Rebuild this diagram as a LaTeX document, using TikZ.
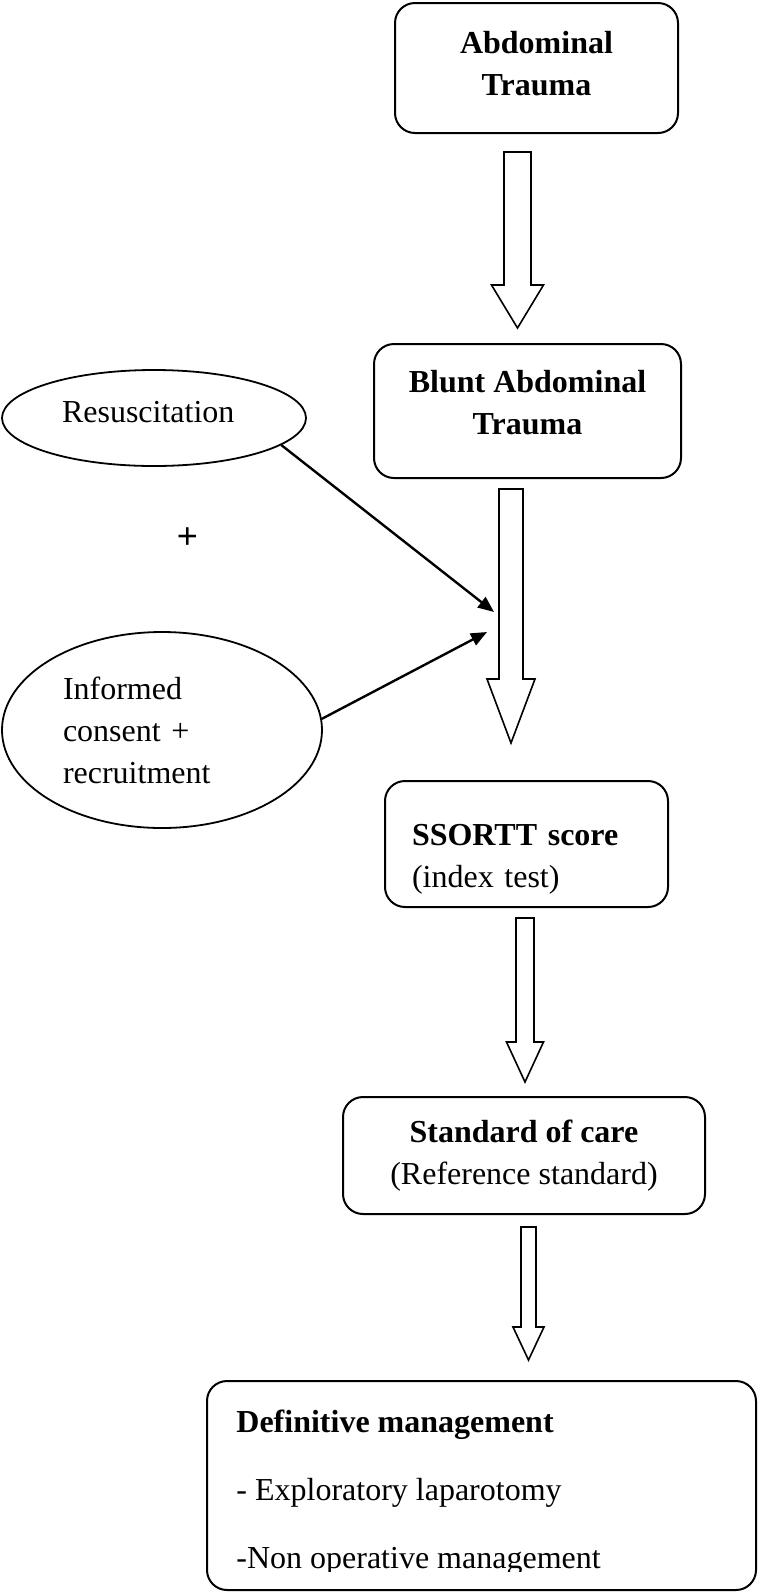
\documentclass[tikz,border=0pt]{standalone}
\usepackage{fontspec}
\setmainfont{Liberation Serif}
\newfontfamily\plusfont{Liberation Sans}
\usetikzlibrary{shapes.geometric,arrows.meta}

\newcommand{\hollowarrow}[6]{%
  \draw[hollow] (#1-#5,#2) -- (#1+#5,#2) -- (#1+#5,#3) -- (#1+#6,#3) -- (#1,#4) -- (#1-#6,#3) -- (#1-#5,#3) -- cycle;}

\begin{document}
\begin{tikzpicture}[x=0.5pt, y=-0.5pt,
  every node/.style={font=\fontsize{16}{21}\selectfont},
  box/.style={draw, line width=1pt, rounded corners=10pt, align=center},
  oval/.style={draw, ellipse, line width=0.9pt, align=left, inner sep=0pt},
  hollow/.style={draw, line width=0.8pt, fill=white},
  link/.style={line width=1.2pt, -{Triangle[length=8pt,width=6.5pt]}}]
\useasboundingbox (0,0) rectangle (759,1592);

\node[box, minimum width=141.5pt, minimum height=65pt, text depth=5pt] (abd) at (536.5,68) {\textbf{Abdominal}\\\textbf{Trauma}};
\hollowarrow{517.5}{152}{285}{328}{13.5}{26}

\node[box, minimum width=153.5pt, minimum height=67pt, text depth=9pt] (blunt) at (527.5,411) {\textbf{Blunt Abdominal}\\\textbf{Trauma}};
\hollowarrow{511}{489}{679}{743}{12}{24}

\node[oval, minimum width=152pt, minimum height=48pt, text width=92pt, text depth=6pt] (res) at (154,418) {Resuscitation};
\node[font=\plusfont\fontsize{18}{21}\selectfont] (plus) at (187.5,538) {+};
\node[oval, minimum width=160pt, minimum height=98pt, text width=99pt] (inf) at (162,730) {Informed\\consent +\\recruitment};

\coordinate (in1) at (494,612);
\coordinate (in2) at (487,632);
\draw[link] (res.-12) -- (in1);
\draw[link] (inf.4) -- (in2);

\node[box, align=left, text width=114.5pt, inner xsep=13.5pt, minimum height=63pt, text depth=9pt] (ssortt) at (526.5,844) {\textbf{SSORTT score}\\(index test)};
\hollowarrow{525}{918}{1042}{1082}{9}{18.5}

\node[box, minimum width=181pt, minimum height=58.5pt] (soc) at (524,1155.5) {\textbf{Standard of care}\\(Reference standard)};
\hollowarrow{528.5}{1227}{1327}{1360}{7.5}{15.5}

\node[box, minimum width=274.5pt, minimum height=104.5pt] (dm) at (481.5,1485.5) {};
\begin{scope}
\clip (207,1381) rectangle (756,1571);
\node[anchor=base west, inner sep=0pt] (dmhead) at (236,1432) {\textbf{Definitive management}};
\node[anchor=base west, inner sep=0pt] (dmlap) at (236,1500) {- Exploratory laparotomy};
\node[anchor=base west, inner sep=0pt] (dmnon) at (236,1568) {-Non operative management};
\end{scope}
\end{tikzpicture}
\end{document}
